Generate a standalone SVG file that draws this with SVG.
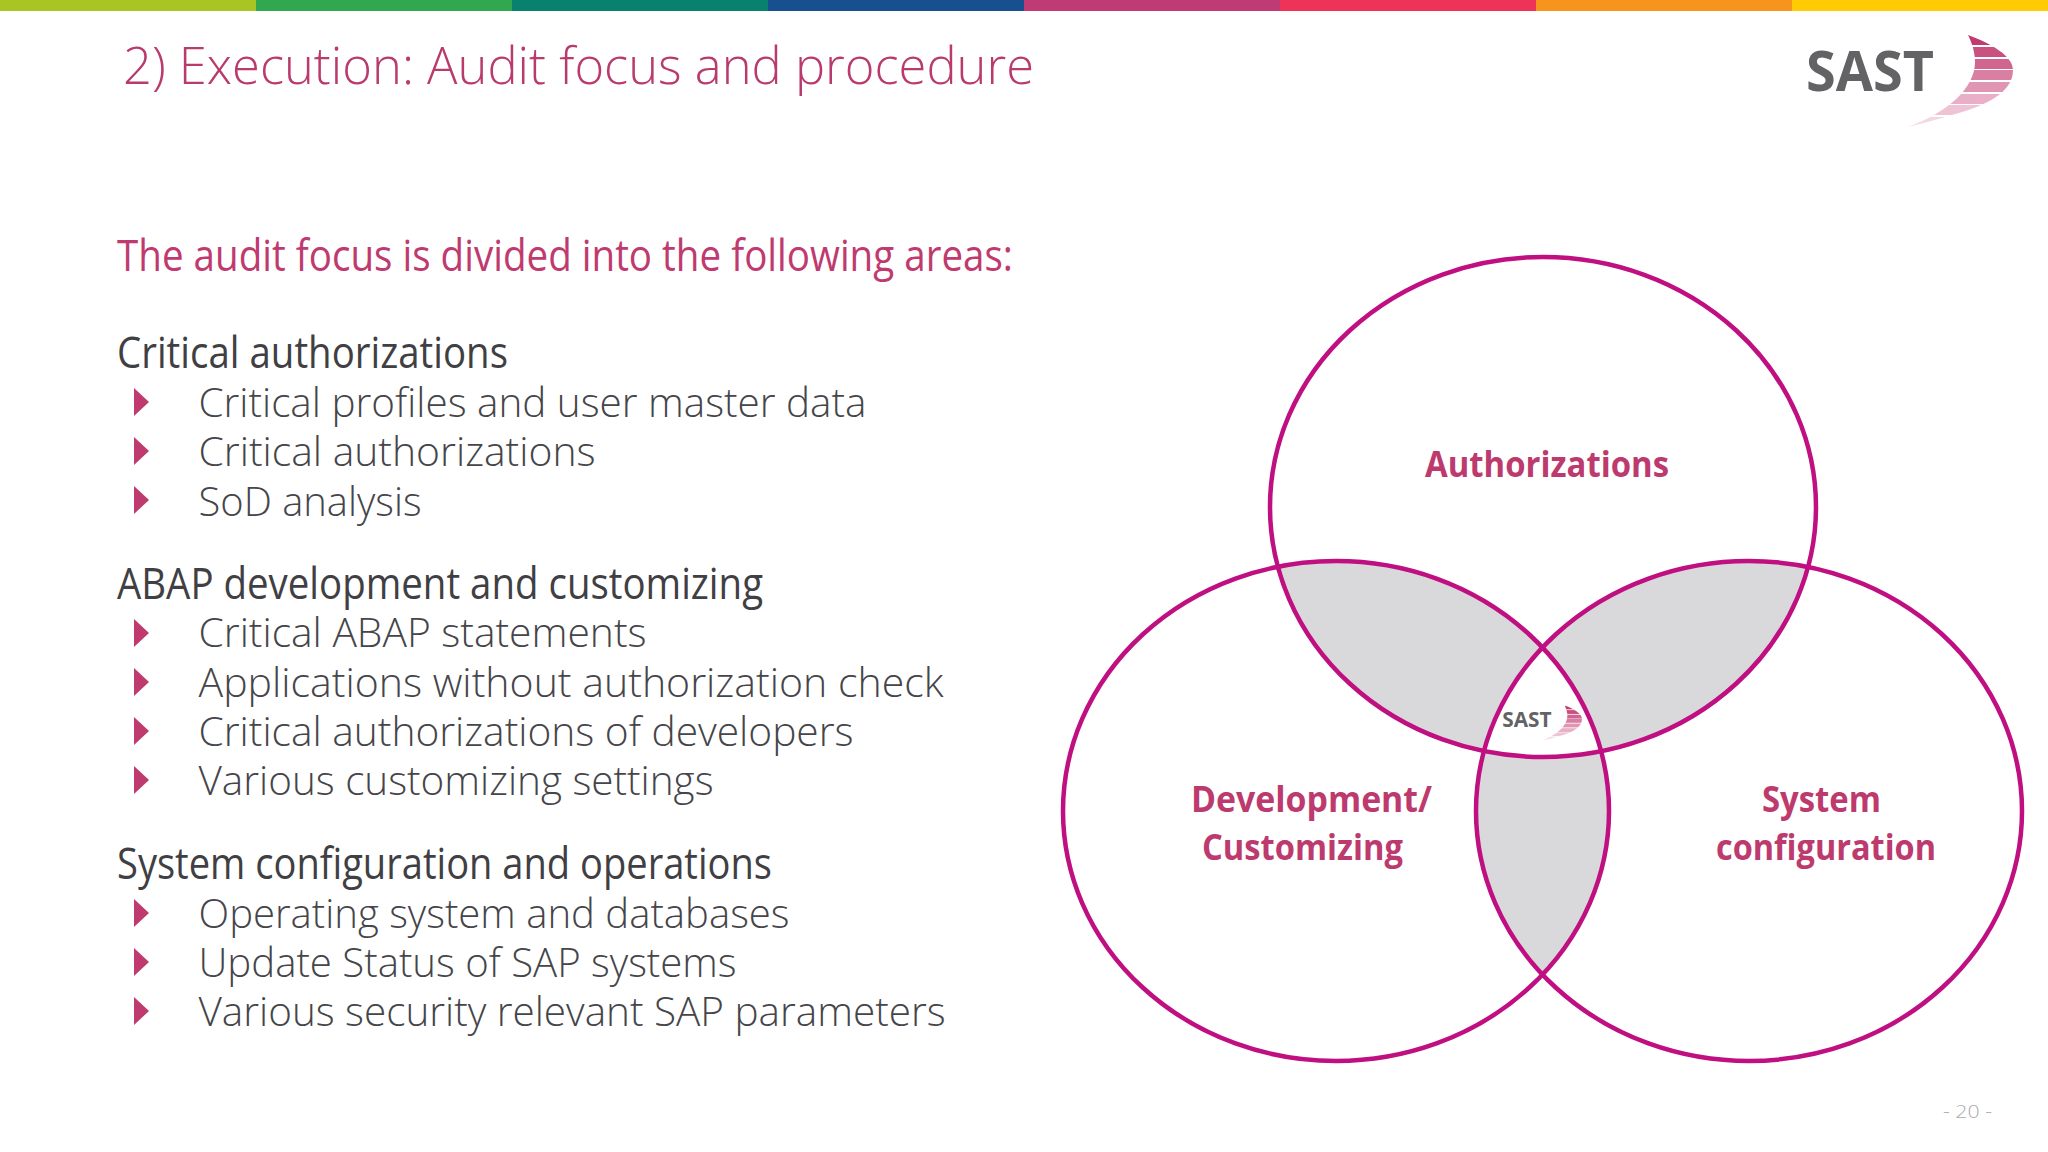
<svg xmlns="http://www.w3.org/2000/svg" xmlns:xlink="http://www.w3.org/1999/xlink" width="2048" height="1152" viewBox="0 0 2048 1152">
<style>
text{font-family:"Open Sans","Noto Sans","Liberation Sans",sans-serif}
.title{font-size:51px;font-weight:300;fill:#b93a6c}
.lead{font-size:43px;font-weight:500;fill:#bf3a6e}
.head{font-size:43px;font-weight:500;fill:#3f3f44}
.item{font-size:40px;font-weight:300;fill:#45454a}
.lab{font-size:35px;font-weight:700;fill:#bd3a6e}
.mk{fill:#bf3a6e}
.ring{fill:none;stroke:#bf0f80;stroke-width:4.5}
.g{fill:#d9d8da}
.logotext{font-size:55px;font-weight:700;fill:#636366}
</style>
<defs>
<ellipse id="t" cx="1543" cy="507" rx="273" ry="250"/>
<ellipse id="l" cx="1336" cy="811" rx="273" ry="250"/>
<ellipse id="r" cx="1749" cy="811" rx="273" ry="250"/>
<clipPath id="ct"><use href="#t"/></clipPath>
<clipPath id="cl"><use href="#l"/></clipPath>
<clipPath id="cr"><use href="#r"/></clipPath>
<clipPath id="sw"><path d="M1968,35C1992,44 2013,56 2013,70C2013,93 1985,106 1952,115C1936,120 1922,123 1908,127C1948,112 1975,88 1975,62C1975,52 1972,43 1968,35Z"/></clipPath>
<g id="logo">
<text class="logotext" x="1806" y="91" textLength="128" lengthAdjust="spacingAndGlyphs">SAST</text>
<g clip-path="url(#sw)">
<rect x="1900" y="34" width="120" height="11" fill="#c23b70"/>
<rect x="1900" y="47" width="120" height="10" fill="#c8517f"/>
<rect x="1900" y="59" width="120" height="10" fill="#d0668f"/>
<rect x="1900" y="70" width="120" height="10" fill="#d97fa2"/>
<rect x="1900" y="82" width="120" height="10" fill="#e096b2"/>
<rect x="1900" y="94" width="120" height="10" fill="#e8afc6"/>
<rect x="1900" y="105" width="120" height="10" fill="#eec4d4"/>
<rect x="1900" y="117" width="120" height="10" fill="#f3d8e2"/>
</g>
</g>
</defs>
<rect width="2048" height="1152" fill="#fff"/>
<g id="topbar">
<rect x="0" width="256" height="11" fill="#a9c523"/>
<rect x="256" width="256" height="11" fill="#31a84f"/>
<rect x="512" width="256" height="11" fill="#08826f"/>
<rect x="768" width="256" height="11" fill="#17508f"/>
<rect x="1024" width="256" height="11" fill="#be3b74"/>
<rect x="1280" width="256" height="11" fill="#ee3358"/>
<rect x="1536" width="256" height="11" fill="#f7941d"/>
<rect x="1792" width="256" height="11" fill="#ffcb05"/>
</g>
<text class="title" x="123" y="84" textLength="911" lengthAdjust="spacingAndGlyphs">2) Execution: Audit focus and procedure</text>
<use href="#logo"/>
<text class="lead" x="117" y="271" textLength="896" lengthAdjust="spacingAndGlyphs">The audit focus is divided into the following areas:</text>
<g id="list">
<text class="head" x="117" y="368" textLength="391" lengthAdjust="spacingAndGlyphs">Critical authorizations</text>
<text class="item" x="198.5" y="417" textLength="668" lengthAdjust="spacingAndGlyphs">Critical profiles and user master data</text>
<text class="item" x="198.5" y="466" textLength="397" lengthAdjust="spacingAndGlyphs">Critical authorizations</text>
<text class="item" x="198.5" y="515.5" textLength="223" lengthAdjust="spacingAndGlyphs">SoD analysis</text>
<text class="head" x="117" y="599" textLength="646" lengthAdjust="spacingAndGlyphs">ABAP development and customizing</text>
<text class="item" x="198.5" y="647" textLength="448" lengthAdjust="spacingAndGlyphs">Critical ABAP statements</text>
<text class="item" x="198.5" y="696.5" textLength="745" lengthAdjust="spacingAndGlyphs">Applications without authorization check</text>
<text class="item" x="198.5" y="745.5" textLength="655" lengthAdjust="spacingAndGlyphs">Critical authorizations of developers</text>
<text class="item" x="198.5" y="794.5" textLength="515" lengthAdjust="spacingAndGlyphs">Various customizing settings</text>
<text class="head" x="117" y="879" textLength="655" lengthAdjust="spacingAndGlyphs">System configuration and operations</text>
<text class="item" x="198.5" y="928" textLength="591" lengthAdjust="spacingAndGlyphs">Operating system and databases</text>
<text class="item" x="198.5" y="977" textLength="538" lengthAdjust="spacingAndGlyphs">Update Status of SAP systems</text>
<text class="item" x="198.5" y="1026" textLength="747" lengthAdjust="spacingAndGlyphs">Various security relevant SAP parameters</text>
<g class="mk">
<path d="M134,388L149,402L134,416Z"/><path d="M134,437L149,451L134,465Z"/><path d="M134,486L149,500L134,514Z"/>
<path d="M134,619L149,633L134,647Z"/><path d="M134,668L149,682L134,696Z"/><path d="M134,717L149,731L134,745Z"/><path d="M134,766L149,780L134,794Z"/>
<path d="M134,899L149,913L134,927Z"/><path d="M134,948L149,962L134,976Z"/><path d="M134,997L149,1011L134,1025Z"/>
</g>
</g>
<g id="overlaps">
<g clip-path="url(#ct)"><use href="#l" class="g"/><use href="#r" class="g"/></g>
<g clip-path="url(#cl)"><use href="#r" class="g"/></g>
<g clip-path="url(#ct)"><g clip-path="url(#cl)"><use href="#r" fill="#fff"/></g></g>
</g>
<g id="node-authorizations">
<use href="#t" class="ring"/>
<text class="lab" x="1425" y="477" textLength="244" lengthAdjust="spacingAndGlyphs">Authorizations</text>
</g>
<g id="node-development">
<use href="#l" class="ring"/>
<text class="lab" x="1191" y="812" textLength="241" lengthAdjust="spacingAndGlyphs">Development/</text>
<text class="lab" x="1202" y="860" textLength="201" lengthAdjust="spacingAndGlyphs">Customizing</text>
</g>
<g id="node-system">
<use href="#r" class="ring"/>
<text class="lab" x="1762" y="812" textLength="119" lengthAdjust="spacingAndGlyphs">System</text>
<text class="lab" x="1716" y="860" textLength="220" lengthAdjust="spacingAndGlyphs">configuration</text>
</g>
<g id="node-center">
<use href="#logo" transform="translate(807 692) scale(.385)"/>
</g>
<text x="1943" y="1118" font-size="18" font-weight="300" fill="#a9a9ad" textLength="49" lengthAdjust="spacingAndGlyphs">- 20 -</text>
</svg>
